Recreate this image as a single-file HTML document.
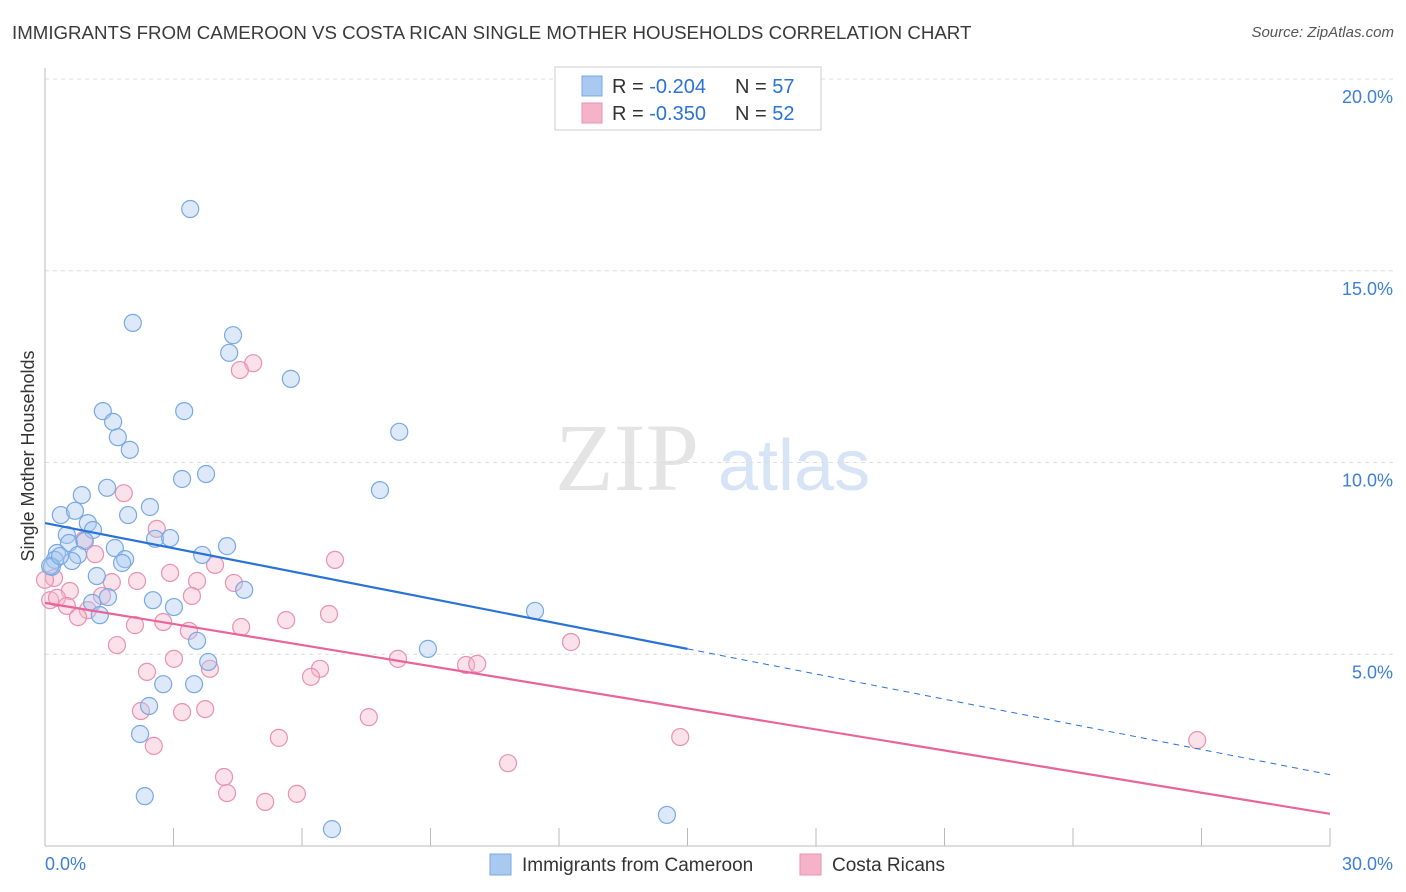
<!DOCTYPE html>
<html><head><meta charset="utf-8"><style>
body{margin:0;background:#fff;font-family:"Liberation Sans",sans-serif;}
#wrap{position:relative;width:1406px;height:892px;overflow:hidden;}
.title{position:absolute;left:12px;top:22px;font-size:18.7px;color:#3a3a3a;}
.src{position:absolute;right:12px;top:24px;font-size:15px;color:#555;font-style:italic;}
</style></head><body>
<div id="wrap">
<div class="title">IMMIGRANTS FROM CAMEROON VS COSTA RICAN SINGLE MOTHER HOUSEHOLDS CORRELATION CHART</div>
<div class="src">Source: ZipAtlas.com</div>
<svg id="svg" width="1406" height="892" style="position:absolute;left:0;top:0"></svg>
</div>
<script>
const blueX=[3.39,2.05,4.39,4.30,5.74,1.35,3.25,1.59,1.70,1.98,8.27,3.20,3.76,7.82,0.86,1.45,0.37,0.70,2.45,1.94,1.00,1.12,0.51,2.57,2.92,0.56,1.63,0.93,0.28,0.77,0.23,0.63,1.87,1.80,3.67,4.25,0.16,1.21,4.65,1.47,1.10,2.52,3.01,1.28,11.44,3.55,8.94,3.81,2.76,3.48,2.43,2.22,2.33,6.70,14.52,0.12,0.35];
const blueY=[16.61,13.64,13.32,12.86,12.18,11.34,11.34,11.06,10.66,10.33,10.80,9.57,9.70,9.28,9.15,9.34,8.63,8.74,8.84,8.63,8.42,8.24,8.11,8.01,8.03,7.90,7.77,7.95,7.64,7.59,7.46,7.43,7.48,7.38,7.59,7.82,7.28,7.04,6.68,6.49,6.34,6.41,6.23,6.02,6.13,5.35,5.14,4.80,4.22,4.22,3.65,2.92,1.30,0.44,0.81,7.30,7.56];
const pinkX=[4.86,4.55,1.84,2.61,0.91,1.17,6.77,2.92,3.97,1.56,2.15,3.55,4.41,0.21,0.12,0.58,0.28,0.51,1.00,0.77,3.43,1.33,2.10,2.76,3.36,4.58,5.63,6.63,1.68,12.28,2.38,3.01,6.42,6.21,8.24,9.83,10.09,3.85,2.24,3.20,3.74,7.56,5.46,14.83,26.90,2.54,10.81,4.18,4.25,5.14,5.88,0.0];
const pinkY=[12.59,12.41,9.20,8.27,7.98,7.61,7.46,7.12,7.33,6.88,6.91,6.91,6.86,6.99,6.41,6.65,6.47,6.26,6.15,5.97,6.52,6.52,5.76,5.84,5.61,5.71,5.89,6.05,5.24,5.32,4.54,4.88,4.62,4.41,4.88,4.72,4.75,4.62,3.52,3.49,3.57,3.36,2.82,2.84,2.76,2.61,2.16,1.80,1.38,1.15,1.36,6.94];
const blueLine=[8.42,5.14,1.86]; // y at x=0,15,30
const pinkLine=[6.34,0.84];
const yTicks=[5,10,15,20];
const xTickLabels=["0.0%","30.0%"];
const NS="http://www.w3.org/2000/svg";
const svg=document.getElementById('svg');
const X0=45,X1=1330,Y0=846,Y1=79;
const sx=v=>X0+(v/30)*(X1-X0);
const sy=v=>Y0-(v/20)*(Y0-Y1);
function mk(t,a,p){const e=document.createElementNS(NS,t);for(const k in a)e.setAttribute(k,a[k]);(p||svg).appendChild(e);return e;}
let wm=mk('text',{x:555,y:490,'font-size':96,fill:'#e4e4e4','font-family':'Liberation Serif, serif'});wm.textContent='ZIP';


let wm2=mk('text',{x:718,y:490,'font-size':72,fill:'#d6e4f5','font-family':'Liberation Sans, sans-serif'});wm2.textContent='atlas';


yTicks.forEach(t=>{
 const g=mk('line',{x1:X0,x2:1394,y1:sy(t),y2:sy(t),stroke:'#dddddd','stroke-dasharray':'4,4'});
 
 
 const l=mk('text',{x:1393,y:sy(t)+24,'text-anchor':'end','font-size':18,fill:'#3b7fd6'});l.textContent=t.toFixed(1)+'%';
 
 
});
const ax=mk('line',{x1:X0,x2:X0,y1:68,y2:Y0,stroke:'#bbb'});


const bx=mk('line',{x1:X0,x2:X1,y1:Y0,y2:Y0,stroke:'#bbb'});


for(let i=0;i<=10;i++){const t=mk('line',{x1:sx(i*3),x2:sx(i*3),y1:Y0,y2:Y0-18,stroke:'#bbb'});
 
 }
let xl=mk('text',{x:45,y:870,'font-size':18,fill:'#3b7fd6'});xl.textContent=xTickLabels[0];


let xr=mk('text',{x:1393,y:870,'text-anchor':'end','font-size':18,fill:'#3b7fd6'});xr.textContent=xTickLabels[1];


let yt=mk('text',{x:34,y:456,'font-size':18,fill:'#333','text-anchor':'middle',transform:'rotate(-90 34 456)'});yt.textContent='Single Mother Households';


function pts(xs,ys,fill,stroke,name){xs.forEach((v,i)=>{const c=mk('circle',{cx:sx(v),cy:sy(ys[i]),r:8.5,fill:fill,'fill-opacity':0.4,stroke:stroke,'stroke-width':1.2});
 
 });}
pts(pinkX,pinkY,'#f5b3c9','#e892b2','point-costa-ricans');
pts(blueX,blueY,'#a9c9f1','#78a9e2','point-cameroon');
const b1=mk('line',{x1:sx(0),y1:sy(blueLine[0]),x2:sx(15),y2:sy(blueLine[1]),stroke:'#2a72d6','stroke-width':2.2});


const b2=mk('line',{x1:sx(15),y1:sy(blueLine[1]),x2:sx(30),y2:sy(blueLine[2]),stroke:'#2a72d6','stroke-width':1,'stroke-dasharray':'6,5'});


const p1=mk('line',{x1:sx(0),y1:sy(pinkLine[0]),x2:sx(30),y2:sy(pinkLine[1]),stroke:'#e8649a','stroke-width':2.2});


const lg=mk('g',{});


mk('rect',{x:555,y:67,width:266,height:63,fill:'#fff',stroke:'#ccc'},lg);
[['#a9c9f1','#78a9e2','-0.204','57',86],['#f5b3c9','#e892b2','-0.350','52',113]].forEach(r=>{
 mk('rect',{x:582,y:r[4]-10,width:20,height:20,fill:r[0],stroke:r[1]},lg);
 const t=mk('text',{x:612,y:r[4]+7,'font-size':20,fill:'#333'},lg);
 t.innerHTML='R = <tspan fill="#2a72d6">'+r[2]+'</tspan><tspan x="735">N = </tspan><tspan fill="#2a72d6">'+r[3]+'</tspan>';
});
[['#a9c9f1','#78a9e2','Immigrants from Cameroon',490,'legend-cameroon'],['#f5b3c9','#e892b2','Costa Ricans',800,'legend-costa-ricans']].forEach(r=>{
 const g=mk('g',{});
 
 
 mk('rect',{x:r[3],y:854,width:21,height:21,fill:r[0],stroke:r[1]},g);
 const t=mk('text',{x:r[3]+32,y:871,'font-size':19,fill:'#333'},g);t.textContent=r[2];
});
</script>
</body></html>
